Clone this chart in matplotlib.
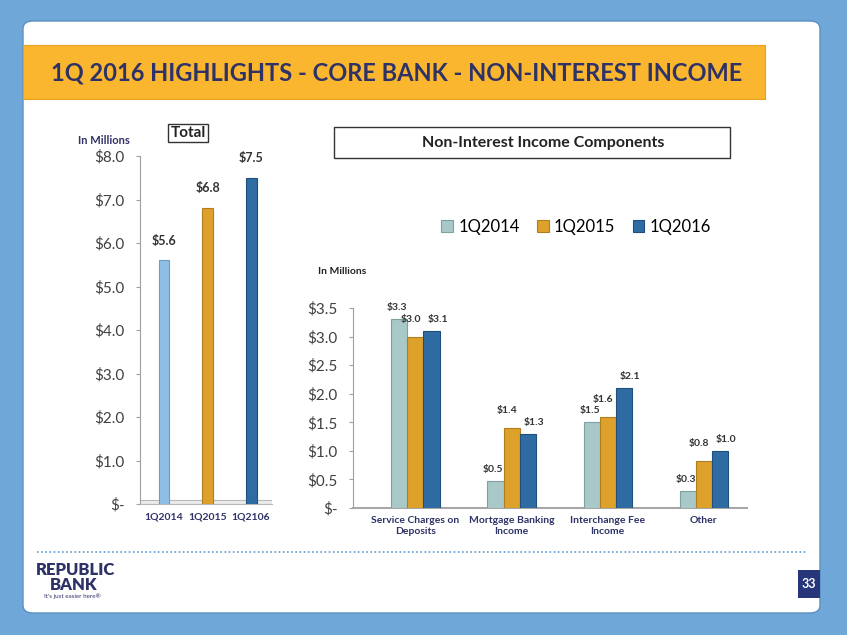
import matplotlib
matplotlib.use("Agg")
import matplotlib.pyplot as plt
from matplotlib.patches import FancyBboxPatch, Rectangle
from matplotlib.ticker import FuncFormatter

W, H = 847, 635

# --- data ---
total_quarters = ["1Q2014", "1Q2015", "1Q2106"]
total_values = [5.6, 6.8, 7.5]

components = ["Service Charges on\nDeposits", "Mortgage Banking\nIncome",
              "Interchange Fee\nIncome", "Other"]
series_names = ["1Q2014", "1Q2015", "1Q2016"]
q2014 = [3.3, 0.48, 1.5, 0.29]
q2015 = [3.0, 1.4, 1.6, 0.83]
q2016 = [3.1, 1.3, 2.1, 1.0]
series_labels = [["$3.3", "$0.5", "$1.5", "$0.3"],
                 ["$3.0", "$1.4", "$1.6", "$0.8"],
                 ["$3.1", "$1.3", "$2.1", "$1.0"]]

# --- styles ---
navy = "#2E3266"
txt_dark = "#404040"
left_colors = ["#8DBFE6", "#DDA12C", "#2F6CA3"]
right_colors = ["#A9C9C9", "#DDA12C", "#2F6CA3"]
font = ["Lato", "DejaVu Sans"]


def fx(px):
    return px / W


def fy(py):
    return 1 - py / H


def money(v, pos):
    return "$-" if abs(v) < 1e-9 else f"${v:.1f}"


fig = plt.figure(figsize=(W / 100, H / 100), dpi=100)
fig.patch.set_facecolor("#6FA7D8")

# white slide panel
panel = FancyBboxPatch((fx(23), fy(613)), fx(820) - fx(23), fy(21) - fy(613),
                       boxstyle="round,pad=0,rounding_size=0.012",
                       transform=fig.transFigure, fc="white", ec="#5B8FC0",
                       lw=1, zorder=-3)
fig.patches.append(panel)

# title bar
fig.patches.append(Rectangle((fx(23), fy(99)), fx(765) - fx(23), fy(45) - fy(99),
                             transform=fig.transFigure, fc="#FAB62E",
                             ec="#E8A020", lw=0.8, zorder=-2))
fig.text(fx(397), fy(73), "1Q 2016 HIGHLIGHTS - CORE BANK - NON-INTEREST INCOME",
         ha="center", va="center", fontsize=17, fontweight="bold", color=navy,
         family=font)

# --- left chart: total ---
axL = fig.add_axes([fx(140), fy(504), fx(272) - fx(140), fy(156) - fy(504)])
xl = range(len(total_values))
axL.bar(xl, total_values, width=0.25, color=left_colors,
        edgecolor=["#6A9CC4", "#B07E1E", "#1F4F7A"], lw=0.8, zorder=3)
for x, v in zip(xl, total_values):
    axL.annotate(f"${v:.1f}", (x, v), xytext=(0, 10), textcoords="offset points",
                 ha="center", va="bottom", fontsize=9, fontweight="bold",
                 color="#333333", family=font)
axL.axhspan(0, 0.09, fc="#ECECEC", ec="#B8B8B8", lw=0.8, zorder=2)
axL.set_xlim(-0.55, 2.48)
axL.set_ylim(0, 8)
axL.set_yticks(range(0, 9))
axL.yaxis.set_major_formatter(FuncFormatter(money))
axL.set_xticks(list(xl))
axL.set_xticklabels(total_quarters)
axL.tick_params(axis="y", labelsize=11, colors="#A0A0A0", labelcolor=txt_dark,
                length=3, pad=8)
axL.tick_params(axis="x", length=0, labelsize=7.5, labelcolor=navy, pad=6)
for lab in axL.get_xticklabels():
    lab.set_fontweight("bold")
    lab.set_family(font)
for lab in axL.get_yticklabels():
    lab.set_family(font)
for s in ["top", "right"]:
    axL.spines[s].set_visible(False)
axL.spines["left"].set_color("#A0A0A0")
axL.spines["bottom"].set_color("#B8B8B8")
axL.set_facecolor("none")

fig.text(fx(104), fy(140), "In Millions", ha="center", va="center",
         fontsize=8, fontweight="bold", color=navy, family=font)
fig.text(fx(188), fy(133), "Total", ha="center", va="center", fontsize=11,
         fontweight="bold", color="#222222", family=font,
         bbox=dict(boxstyle="square,pad=0.15", fc="white", ec="#333333", lw=1))

# --- right chart: components ---
axR = fig.add_axes([fx(353), fy(508), fx(747) - fx(353), fy(308) - fy(508)])
width = 0.167
series = [q2014, q2015, q2016]
dxs = [-1.5, -3.5, 4.5]
dys = [5, 9, 5]
edge = ["#7FA0A0", "#B07E1E", "#1F4F7A"]
for i, vals in enumerate(series):
    xs = [c + (i - 1) * width for c in range(len(components))]
    axR.bar(xs, vals, width=width, color=right_colors[i], edgecolor=edge[i],
            lw=0.8, zorder=3, label=series_names[i])
    for x, v, lab in zip(xs, vals, series_labels[i]):
        axR.annotate(lab, (x, v), xytext=(dxs[i], dys[i]), textcoords="offset points",
                     ha="center", va="bottom", fontsize=7.5, fontweight="bold",
                     color="#333333", family=font)
axR.set_xlim(-0.65, 3.45)
axR.set_ylim(0, 3.5)
axR.set_yticks([0, 0.5, 1.0, 1.5, 2.0, 2.5, 3.0, 3.5])
axR.yaxis.set_major_formatter(FuncFormatter(money))
axR.set_xticks(range(len(components)))
axR.set_xticklabels(components)
axR.tick_params(axis="y", labelsize=11, colors="#A0A0A0", labelcolor=txt_dark,
                length=3, pad=8)
axR.tick_params(axis="x", length=0, labelsize=7.5, labelcolor=navy, pad=6)
for lab in axR.get_xticklabels():
    lab.set_fontweight("bold")
    lab.set_family(font)
for lab in axR.get_yticklabels():
    lab.set_family(font)
for s in ["top", "right"]:
    axR.spines[s].set_visible(False)
axR.spines["left"].set_color("#A0A0A0")
axR.spines["bottom"].set_color("#A8A8A8")
axR.spines["bottom"].set_linewidth(1.5)
axR.set_facecolor("none")

handles, labels = axR.get_legend_handles_labels()
fig.legend(handles, labels, loc="center", bbox_to_anchor=(fx(576), fy(227)),
           ncol=3, frameon=False, handlelength=0.7,
           handleheight=0.7, handletextpad=0.3, columnspacing=1.05,
           prop={"family": font, "size": 12})

fig.text(fx(342), fy(272), "In Millions", ha="center", va="center",
         fontsize=7.5, fontweight="bold", color="#222222", family=font)

# components title box
fig.patches.append(Rectangle((fx(334), fy(158)), fx(730) - fx(334), fy(127) - fy(158),
                             transform=fig.transFigure, fc="white", ec="#333333",
                             lw=1, zorder=-1))
fig.text(fx(543), fy(143), "Non-Interest Income Components", ha="center",
         va="center", fontsize=11.5, fontweight="bold", color="#222222",
         family=font)

# --- footer ---
fig.add_artist(plt.Line2D([fx(37), fx(806)], [fy(552), fy(552)],
                          transform=fig.transFigure, color="#5B9BD5",
                          lw=1.2, ls=(0, (1, 1.5))))
fig.text(fx(75), fy(570), "REPUBLIC", ha="center", va="center", fontsize=12,
         fontweight="heavy", color=navy, family=font)
fig.text(fx(74), fy(585), "BANK", ha="center", va="center", fontsize=12,
         fontweight="heavy", color=navy, family=font)
fig.text(fx(44), fy(596), "It's just easier here\u00ae", ha="left", va="center",
         fontsize=4.5, color=navy, family=font)
fig.patches.append(Rectangle((fx(798), fy(598)), fx(820) - fx(798), fy(570) - fy(598),
                             transform=fig.transFigure, fc="#27357A", ec="none",
                             zorder=-1))
fig.text(fx(809), fy(584), "33", ha="center", va="center", fontsize=9,
         fontweight="bold", color="white", family=font)

fig.savefig("out.png", dpi=100)
